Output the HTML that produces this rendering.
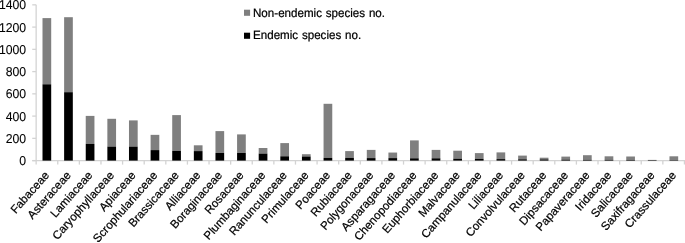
<!DOCTYPE html>
<html><head><meta charset="utf-8"><title>Species chart</title>
<style>
html,body{margin:0;padding:0;background:#fff;}
body{width:685px;height:243px;overflow:hidden;}
svg{display:block;}
text{font-family:"Liberation Sans",Arial,sans-serif;font-size:11.6px;fill:#000;word-spacing:0.6px;text-rendering:geometricPrecision;stroke:#000;stroke-width:0.22px;}
.yl text{font-size:12.25px;stroke-width:0.08px;}
</style></head><body>
<svg width="685" height="243" viewBox="0 0 685 243">
<rect width="685" height="243" fill="#fff"/>

<g stroke="#d3d3d3" stroke-width="1.3" fill="none">
<line x1="36.15" y1="4.8" x2="36.15" y2="160.6"/>
<line x1="32.25" y1="160.6" x2="685" y2="160.6"/>
<line x1="32.25" y1="160.60" x2="36.15" y2="160.60"/>
<line x1="32.25" y1="138.35" x2="36.15" y2="138.35"/>
<line x1="32.25" y1="116.10" x2="36.15" y2="116.10"/>
<line x1="32.25" y1="93.85" x2="36.15" y2="93.85"/>
<line x1="32.25" y1="71.60" x2="36.15" y2="71.60"/>
<line x1="32.25" y1="49.35" x2="36.15" y2="49.35"/>
<line x1="32.25" y1="27.10" x2="36.15" y2="27.10"/>
<line x1="32.25" y1="4.85" x2="36.15" y2="4.85"/>
<line x1="36.15" y1="160.6" x2="36.15" y2="164.6"/>
<line x1="57.76" y1="160.6" x2="57.76" y2="164.6"/>
<line x1="79.37" y1="160.6" x2="79.37" y2="164.6"/>
<line x1="100.98" y1="160.6" x2="100.98" y2="164.6"/>
<line x1="122.59" y1="160.6" x2="122.59" y2="164.6"/>
<line x1="144.20" y1="160.6" x2="144.20" y2="164.6"/>
<line x1="165.81" y1="160.6" x2="165.81" y2="164.6"/>
<line x1="187.42" y1="160.6" x2="187.42" y2="164.6"/>
<line x1="209.03" y1="160.6" x2="209.03" y2="164.6"/>
<line x1="230.64" y1="160.6" x2="230.64" y2="164.6"/>
<line x1="252.25" y1="160.6" x2="252.25" y2="164.6"/>
<line x1="273.86" y1="160.6" x2="273.86" y2="164.6"/>
<line x1="295.47" y1="160.6" x2="295.47" y2="164.6"/>
<line x1="317.08" y1="160.6" x2="317.08" y2="164.6"/>
<line x1="338.69" y1="160.6" x2="338.69" y2="164.6"/>
<line x1="360.30" y1="160.6" x2="360.30" y2="164.6"/>
<line x1="381.91" y1="160.6" x2="381.91" y2="164.6"/>
<line x1="403.52" y1="160.6" x2="403.52" y2="164.6"/>
<line x1="425.13" y1="160.6" x2="425.13" y2="164.6"/>
<line x1="446.74" y1="160.6" x2="446.74" y2="164.6"/>
<line x1="468.35" y1="160.6" x2="468.35" y2="164.6"/>
<line x1="489.96" y1="160.6" x2="489.96" y2="164.6"/>
<line x1="511.57" y1="160.6" x2="511.57" y2="164.6"/>
<line x1="533.18" y1="160.6" x2="533.18" y2="164.6"/>
<line x1="554.79" y1="160.6" x2="554.79" y2="164.6"/>
<line x1="576.40" y1="160.6" x2="576.40" y2="164.6"/>
<line x1="598.01" y1="160.6" x2="598.01" y2="164.6"/>
<line x1="619.62" y1="160.6" x2="619.62" y2="164.6"/>
<line x1="641.23" y1="160.6" x2="641.23" y2="164.6"/>
<line x1="662.84" y1="160.6" x2="662.84" y2="164.6"/>
<line x1="684.45" y1="160.6" x2="684.45" y2="164.6"/>
</g>
<g class="yl" text-anchor="end">
<text transform="translate(26.2,165.10) scale(1,1.05)">0</text>
<text transform="translate(26.2,142.85) scale(1,1.05)">200</text>
<text transform="translate(26.2,120.60) scale(1,1.05)">400</text>
<text transform="translate(26.2,98.35) scale(1,1.05)">600</text>
<text transform="translate(26.2,76.10) scale(1,1.05)">800</text>
<text transform="translate(26.2,53.85) scale(1,1.05)">1000</text>
<text transform="translate(26.2,31.60) scale(1,1.05)">1200</text>
<text transform="translate(26.2,9.35) scale(1,1.05)">1400</text>
</g>
<rect x="42.50" y="18.1" width="8.7" height="66.20" fill="#7f7f7f"/>
<rect x="42.50" y="84.3" width="8.7" height="76.30" fill="#000"/>
<rect x="64.12" y="17.2" width="8.7" height="75.00" fill="#7f7f7f"/>
<rect x="64.12" y="92.2" width="8.7" height="68.40" fill="#000"/>
<rect x="85.74" y="115.9" width="8.7" height="28.00" fill="#7f7f7f"/>
<rect x="85.74" y="143.9" width="8.7" height="16.70" fill="#000"/>
<rect x="107.36" y="118.8" width="8.7" height="27.80" fill="#7f7f7f"/>
<rect x="107.36" y="146.6" width="8.7" height="14.00" fill="#000"/>
<rect x="128.98" y="120.4" width="8.7" height="26.20" fill="#7f7f7f"/>
<rect x="128.98" y="146.6" width="8.7" height="14.00" fill="#000"/>
<rect x="150.60" y="134.85" width="8.7" height="15.25" fill="#7f7f7f"/>
<rect x="150.60" y="150.1" width="8.7" height="10.50" fill="#000"/>
<rect x="172.22" y="115.1" width="8.7" height="35.80" fill="#7f7f7f"/>
<rect x="172.22" y="150.9" width="8.7" height="9.70" fill="#000"/>
<rect x="193.84" y="145.3" width="8.7" height="5.80" fill="#7f7f7f"/>
<rect x="193.84" y="151.1" width="8.7" height="9.50" fill="#000"/>
<rect x="215.46" y="131.1" width="8.7" height="21.90" fill="#7f7f7f"/>
<rect x="215.46" y="153.0" width="8.7" height="7.60" fill="#000"/>
<rect x="237.08" y="134.4" width="8.7" height="18.60" fill="#7f7f7f"/>
<rect x="237.08" y="153.0" width="8.7" height="7.60" fill="#000"/>
<rect x="258.70" y="148.0" width="8.7" height="5.60" fill="#7f7f7f"/>
<rect x="258.70" y="153.6" width="8.7" height="7.00" fill="#000"/>
<rect x="280.32" y="143.1" width="8.7" height="13.20" fill="#7f7f7f"/>
<rect x="280.32" y="156.3" width="8.7" height="4.30" fill="#000"/>
<rect x="301.94" y="154.2" width="8.7" height="2.30" fill="#7f7f7f"/>
<rect x="301.94" y="156.5" width="8.7" height="4.10" fill="#000"/>
<rect x="323.56" y="103.8" width="8.7" height="54.10" fill="#7f7f7f"/>
<rect x="323.56" y="157.9" width="8.7" height="2.70" fill="#000"/>
<rect x="345.18" y="151.1" width="8.7" height="6.80" fill="#7f7f7f"/>
<rect x="345.18" y="157.9" width="8.7" height="2.70" fill="#000"/>
<rect x="366.80" y="149.9" width="8.7" height="8.20" fill="#7f7f7f"/>
<rect x="366.80" y="158.1" width="8.7" height="2.50" fill="#000"/>
<rect x="388.42" y="152.55" width="8.7" height="5.55" fill="#7f7f7f"/>
<rect x="388.42" y="158.1" width="8.7" height="2.50" fill="#000"/>
<rect x="410.04" y="140.4" width="8.7" height="17.90" fill="#7f7f7f"/>
<rect x="410.04" y="158.3" width="8.7" height="2.30" fill="#000"/>
<rect x="431.66" y="149.9" width="8.7" height="8.40" fill="#7f7f7f"/>
<rect x="431.66" y="158.3" width="8.7" height="2.30" fill="#000"/>
<rect x="453.28" y="150.7" width="8.7" height="8.00" fill="#7f7f7f"/>
<rect x="453.28" y="158.7" width="8.7" height="1.90" fill="#000"/>
<rect x="474.90" y="153.1" width="8.7" height="5.80" fill="#7f7f7f"/>
<rect x="474.90" y="158.9" width="8.7" height="1.70" fill="#000"/>
<rect x="496.52" y="152.4" width="8.7" height="6.70" fill="#7f7f7f"/>
<rect x="496.52" y="159.1" width="8.7" height="1.50" fill="#000"/>
<rect x="518.14" y="155.6" width="8.7" height="3.70" fill="#7f7f7f"/>
<rect x="518.14" y="159.3" width="8.7" height="1.30" fill="#000"/>
<rect x="539.76" y="157.7" width="8.7" height="1.70" fill="#7f7f7f"/>
<rect x="539.76" y="159.4" width="8.7" height="1.20" fill="#000"/>
<rect x="561.38" y="156.6" width="8.7" height="3.00" fill="#7f7f7f"/>
<rect x="561.38" y="159.6" width="8.7" height="1.00" fill="#000"/>
<rect x="583.00" y="155.2" width="8.7" height="4.60" fill="#7f7f7f"/>
<rect x="583.00" y="159.8" width="8.7" height="0.80" fill="#000"/>
<rect x="604.62" y="156.3" width="8.7" height="3.50" fill="#7f7f7f"/>
<rect x="604.62" y="159.8" width="8.7" height="0.80" fill="#000"/>
<rect x="626.24" y="156.5" width="8.7" height="3.40" fill="#7f7f7f"/>
<rect x="626.24" y="159.9" width="8.7" height="0.70" fill="#000"/>
<rect x="647.86" y="159.9" width="8.7" height="0.20" fill="#7f7f7f"/>
<rect x="647.86" y="160.1" width="8.7" height="0.50" fill="#000"/>
<rect x="669.48" y="156.3" width="8.7" height="3.80" fill="#7f7f7f"/>
<rect x="669.48" y="160.1" width="8.7" height="0.50" fill="#000"/>
<rect x="244" y="9.7" width="6.1" height="6.1" fill="#7f7f7f"/>
<text transform="translate(253,16.8) scale(1,1.04)">Non-endemic species no.</text>
<rect x="244" y="32.7" width="6.1" height="6.1" fill="#000"/>
<text transform="translate(253,38.9) scale(1,1.04)">Endemic species no.</text>
<g text-anchor="end">
<text transform="translate(49.81,175.70) rotate(-48.5)">Fabaceae</text>
<text transform="translate(71.43,175.70) rotate(-48.5)">Asteraceae</text>
<text transform="translate(93.05,175.70) rotate(-48.5)">Lamiaceae</text>
<text transform="translate(114.67,175.70) rotate(-48.5)">Caryophyllaceae</text>
<text transform="translate(136.29,175.70) rotate(-48.5)">Apiaceae</text>
<text transform="translate(157.91,175.70) rotate(-48.5)">Scrophulariaceae</text>
<text transform="translate(179.53,175.70) rotate(-48.5)">Brassicaceae</text>
<text transform="translate(201.15,175.70) rotate(-48.5)">Alliaceae</text>
<text transform="translate(222.77,175.70) rotate(-48.5)">Boraginaceae</text>
<text transform="translate(244.39,175.70) rotate(-48.5)">Rosaceae</text>
<text transform="translate(266.01,175.70) rotate(-48.5)">Plumbaginaceae</text>
<text transform="translate(287.63,175.70) rotate(-48.5)">Ranunculaceae</text>
<text transform="translate(309.25,175.70) rotate(-48.5)">Primulaceae</text>
<text transform="translate(330.87,175.70) rotate(-48.5)">Poaceae</text>
<text transform="translate(352.49,175.70) rotate(-48.5)">Rubiaceae</text>
<text transform="translate(374.11,175.70) rotate(-48.5)">Polygonaceae</text>
<text transform="translate(395.73,175.70) rotate(-48.5)">Asparagaceae</text>
<text transform="translate(417.35,175.70) rotate(-48.5)">Chenopodiaceae</text>
<text transform="translate(438.97,175.70) rotate(-48.5)">Euphorbiaceae</text>
<text transform="translate(460.59,175.70) rotate(-48.5)">Malvaceae</text>
<text transform="translate(482.21,175.70) rotate(-48.5)">Campanulaceae</text>
<text transform="translate(503.83,175.70) rotate(-48.5)">Liliaceae</text>
<text transform="translate(525.45,175.70) rotate(-48.5)">Convolvulaceae</text>
<text transform="translate(547.07,175.70) rotate(-48.5)">Rutaceae</text>
<text transform="translate(568.69,175.70) rotate(-48.5)">Dipsacaceae</text>
<text transform="translate(590.31,175.70) rotate(-48.5)">Papaveraceae</text>
<text transform="translate(611.93,175.70) rotate(-48.5)">Iridaceae</text>
<text transform="translate(633.55,175.70) rotate(-48.5)">Salicaceae</text>
<text transform="translate(655.17,175.70) rotate(-48.5)">Saxifragaceae</text>
<text transform="translate(676.79,175.70) rotate(-48.5)">Crassulaceae</text>
</g>
</svg></body></html>
